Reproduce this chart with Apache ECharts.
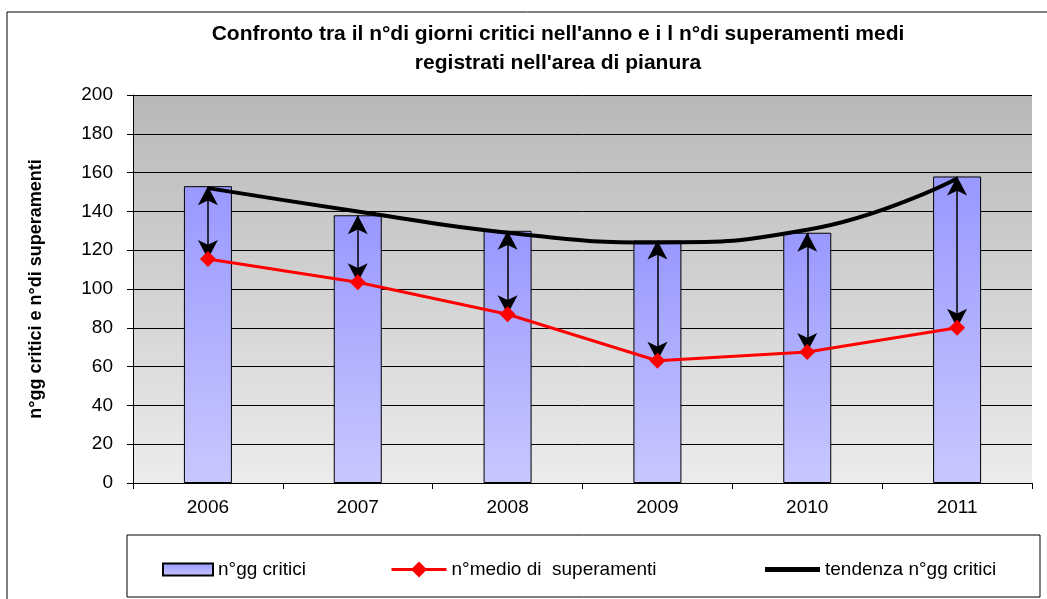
<!DOCTYPE html>
<html>
<head>
<meta charset="utf-8">
<script src="https://cdn.jsdelivr.net/npm/echarts@6/dist/echarts.min.js"></script>
<style>
  html, body { margin: 0; padding: 0; background: #fff; }
  #chart { width: 1047px; height: 599px; }
</style>
</head>
<body>
<div id="chart"></div>
<script>
// dati
var anni = ['2006', '2007', '2008', '2009', '2010', '2011'];
var ggCritici = [153, 138, 130, 125, 129, 158];
var superamenti = [115.5, 103.5, 87, 63, 67.5, 80];
var tendenza = [152, 140, 129, 124, 130.5, 157];
var yTicks = [0, 20, 40, 60, 80, 100, 120, 140, 160, 180, 200];

var font = '"Liberation Sans", Arial, sans-serif';

(function () {
    var myChart = echarts.init(document.getElementById('chart'));

    // frecce doppie tra la colonna e il punto rosso
    var frecce = anni.map(function (a, i) {
        return [{ coord: [i, ggCritici[i]] }, { coord: [i, superamenti[i]] }];
    });

    var legendText = { fontFamily: font, fontSize: 19, color: '#000' };

    var option = {
        animation: false,
        backgroundColor: '#fff',
        title: {
            text: "Confronto tra il n°di giorni critici nell'anno e i l n°di superamenti medi\nregistrati nell'area di pianura",
            left: 553,
            top: 15,
            textAlign: 'center',
            textStyle: {
                fontFamily: font,
                fontWeight: 'bold',
                fontSize: 21,
                lineHeight: 29,
                color: '#000'
            }
        },
        graphic: [
            {
                // cornice esterna
                type: 'rect',
                shape: { x: 7, y: 12, width: 1100, height: 700 },
                style: { fill: 'none', stroke: '#000', lineWidth: 1 },
                silent: true
            },
            {
                // riquadro legenda
                type: 'rect',
                shape: { x: 127, y: 535, width: 913, height: 62 },
                style: { fill: '#fff', stroke: '#000', lineWidth: 1 },
                silent: true,
                z: 0
            }
        ],
        legend: [
            {
                data: [{ name: 'n°gg critici', icon: 'rect' }],
                left: 157, itemWidth: 50, itemHeight: 12
            },
            {
                data: ['n°medio di  superamenti'],
                left: 385, itemWidth: 55, itemHeight: 20,
                lineStyle: { width: 3 }
            },
            {
                data: [{ name: 'tendenza n°gg critici', icon: 'rect' }],
                left: 760, itemWidth: 55, itemHeight: 5
            }
        ].map(function (l) {
            l.top = 555;
            l.itemGap = 6;
            l.textStyle = legendText;
            l.z = 5;
            return l;
        }),
        grid: {
            left: 133,
            right: 15,
            top: 95,
            bottom: 116,
            show: true,
            borderWidth: 0,
            backgroundColor: new echarts.graphic.LinearGradient(0, 0, 0, 1, [
                { offset: 0, color: '#b8b8b8' },
                { offset: 1, color: '#ececec' }
            ])
        },
        xAxis: {
            type: 'category',
            data: anni,
            boundaryGap: true,
            axisLine: { lineStyle: { color: '#000', width: 1 } },
            axisTick: { show: true, length: 6, lineStyle: { color: '#000' } },
            axisLabel: { fontFamily: font, fontSize: 19, color: '#000', margin: 15 }
        },
        yAxis: {
            type: 'value',
            min: yTicks[0],
            max: yTicks[yTicks.length - 1],
            interval: yTicks[1] - yTicks[0],
            name: 'n°gg critici e n°di superamenti',
            nameLocation: 'middle',
            nameGap: 88,
            nameTextStyle: { fontFamily: font, fontWeight: 'bold', fontSize: 18, color: '#000' },
            axisLine: { show: true, lineStyle: { color: '#000', width: 1 } },
            axisTick: { show: true, length: 6, lineStyle: { color: '#000' } },
            axisLabel: { fontFamily: font, fontSize: 19, color: '#000', margin: 20 },
            splitLine: { show: true, lineStyle: { color: '#000', width: 1 } }
        },
        series: [
            {
                name: 'n°gg critici',
                type: 'bar',
                data: ggCritici,
                barWidth: 48,
                itemStyle: {
                    color: new echarts.graphic.LinearGradient(0, 0, 0, 1, [
                        { offset: 0, color: '#9898ff' },
                        { offset: 1, color: '#c8c8ff' }
                    ]),
                    borderColor: '#000',
                    borderWidth: 1
                },
                z: 2
            },
            {
                name: 'tendenza n°gg critici',
                type: 'line',
                data: tendenza,
                smooth: 0.5,
                showSymbol: false,
                symbol: 'none',
                lineStyle: { color: '#000', width: 4 },
                itemStyle: { color: '#000' },
                z: 3
            },
            {
                name: 'n°medio di  superamenti',
                type: 'line',
                data: superamenti,
                symbol: 'diamond',
                symbolSize: 16,
                lineStyle: { color: '#ff0000', width: 3 },
                itemStyle: { color: '#ff0000' },
                z: 5,
                markLine: {
                    silent: true,
                    symbol: ['arrow', 'arrow'],
                    symbolSize: [15, 19],
                    label: { show: false },
                    lineStyle: { color: '#000', width: 1.5, type: 'solid' },
                    data: frecce,
                    z: 4
                }
            }
        ]
    };

    myChart.setOption(option);
})();
</script>
</body>
</html>
